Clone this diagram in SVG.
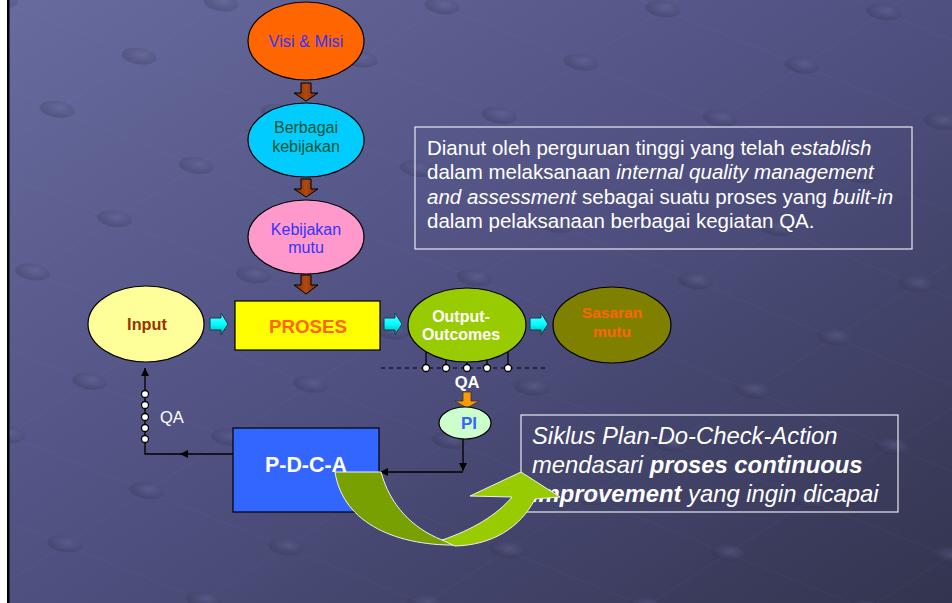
<svg xmlns="http://www.w3.org/2000/svg" width="952" height="603" viewBox="0 0 952 603">
  <defs>
    <linearGradient id="bg" x1="0" y1="0" x2="1" y2="1">
      <stop offset="0" stop-color="#686b9e"/>
      <stop offset="0.5" stop-color="#4f5080"/>
      <stop offset="1" stop-color="#33344e"/>
    </linearGradient>
    <radialGradient id="bump" cx="0.5" cy="0.35" r="0.6">
      <stop offset="0" stop-color="#6d6fa3" stop-opacity="0.35"/>
      <stop offset="1" stop-color="#2e2f4c" stop-opacity="0.28"/>
    </radialGradient>
    <pattern id="grid" width="150" height="80" patternUnits="userSpaceOnUse" patternTransform="rotate(22) skewX(-35)">
      <path d="M0 0 H150 M0 0 V80" stroke="#9a9cd0" stroke-opacity="0.12" stroke-width="1" fill="none"/>
      <ellipse cx="0" cy="0" rx="16" ry="9" fill="url(#bump)"/>
      <ellipse cx="150" cy="0" rx="16" ry="9" fill="url(#bump)"/>
      <ellipse cx="0" cy="80" rx="16" ry="9" fill="url(#bump)"/>
      <ellipse cx="150" cy="80" rx="16" ry="9" fill="url(#bump)"/>
    </pattern>
    <linearGradient id="brown" x1="0" y1="0" x2="1" y2="0">
      <stop offset="0" stop-color="#7a2800"/>
      <stop offset="0.5" stop-color="#b04a10"/>
      <stop offset="1" stop-color="#7a2800"/>
    </linearGradient>
    <linearGradient id="cyan" x1="0" y1="0" x2="0" y2="1">
      <stop offset="0" stop-color="#66ffff"/>
      <stop offset="0.5" stop-color="#00ffff"/>
      <stop offset="1" stop-color="#00a8b0"/>
    </linearGradient>
    <marker id="ah" viewBox="0 0 10 10" refX="10" refY="5" markerWidth="8" markerHeight="8" markerUnits="userSpaceOnUse" orient="auto">
      <path d="M0 0 L10 5 L0 10 Z" fill="#000"/>
    </marker>
    <style>
      .t { font-family: "Liberation Sans", Arial, sans-serif; }
      .node { stroke: #000; stroke-width: 1.2; }
      .lbl { font-family: "Liberation Sans", Arial, sans-serif; text-anchor: middle; }
      .b { font-weight: bold; }
      .ln { stroke: #000; stroke-width: 1.3; fill: none; }
      .dot { fill: #fff; stroke: #000; stroke-width: 1.3; }
      .down { fill: url(#brown); stroke: #000; stroke-width: 1; }
      .right { fill: url(#cyan); stroke: #1a3a4a; stroke-width: 1; }
      .box { fill: none; stroke: #e8e8f0; stroke-width: 1.2; }
      .copy { font-family: "Liberation Sans", Arial, sans-serif; fill: #fff; }
    </style>
  </defs>

  <!-- slide background -->
  <rect x="0" y="0" width="952" height="603" fill="url(#bg)"/>
  <rect x="0" y="0" width="952" height="603" fill="url(#grid)"/>
  <rect x="0" y="0" width="7" height="603" fill="#fff"/>
  <rect x="7" y="0" width="2.5" height="603" fill="#000"/>

  <!-- connectors -->
  <g id="connectors">
    <!-- policy chain arrows -->
    <path class="down" d="M301 83 H311 V93 H318 L306 101 L294 93 H301 Z"/>
    <path class="down" d="M301 179 H311 V189 H318 L306 197 L294 189 H301 Z"/>
    <path class="down" d="M301 275 H311 V285 H318 L306 294 L294 285 H301 Z"/>
    <!-- process flow arrows -->
    <path class="right" d="M210 318 H221 V313 L228 324 L221 335 V330 H210 Z"/>
    <path class="right" d="M384 318 H395 V313 L402 324 L395 335 V330 H384 Z"/>
    <path class="right" d="M530 318 H541 V313 L548 324 L541 335 V330 H530 Z"/>
    <!-- QA measurement probes -->
    <line x1="381" y1="368" x2="548" y2="368" stroke="#000" stroke-width="1.2" stroke-dasharray="4 4"/>
    <g class="ln">
      <line x1="426" y1="352" x2="426" y2="365"/>
      <line x1="446" y1="353" x2="446" y2="365"/>
      <line x1="467" y1="353" x2="467" y2="365"/>
      <line x1="487" y1="353" x2="487" y2="365"/>
      <line x1="508" y1="350" x2="508" y2="365"/>
    </g>
    <circle class="dot" cx="426" cy="368" r="3.5"/>
    <circle class="dot" cx="446" cy="368" r="3.5"/>
    <circle class="dot" cx="467" cy="368" r="3.5"/>
    <circle class="dot" cx="487" cy="368" r="3.5"/>
    <circle class="dot" cx="508" cy="368" r="3.5"/>
    <text class="lbl b" x="467" y="388" font-size="16.5" fill="#fff">QA</text>
    <path d="M463 392 H471 V401 H479 L467 408 L455 401 H463 Z" fill="#ff9900" stroke="#333" stroke-width="0.8"/>
    <!-- PI to PDCA -->
    <path class="ln" d="M463 439 V471" marker-end="url(#ah)"/>
    <path class="ln" d="M463 472 H380" marker-end="url(#ah)"/>
    <!-- PDCA back to input -->
    <path class="ln" d="M233 454 H180" marker-end="url(#ah)"/>
    <path class="ln" d="M182 454 H145 V368" marker-end="url(#ah)"/>
    <circle class="dot" cx="145" cy="394" r="3.5"/>
    <circle class="dot" cx="145" cy="405" r="3.5"/>
    <circle class="dot" cx="145" cy="417" r="3.5"/>
    <circle class="dot" cx="145" cy="428" r="3.5"/>
    <circle class="dot" cx="145" cy="439" r="3.5"/>
    <text class="t" x="160" y="423" font-size="16.5" fill="#fff">QA</text>
  </g>

  <g id="visi-misi">
    <ellipse class="node" cx="306" cy="41" rx="58" ry="39" fill="#ff6600"/>
    <text class="lbl" x="306" y="47" font-size="16.3" fill="#3333ff">Visi &amp; Misi</text>
  </g>

  <g id="berbagai-kebijakan">
    <ellipse class="node" cx="306" cy="140" rx="58" ry="37" fill="#00ccff"/>
    <text class="lbl" x="306" y="133" font-size="16" fill="#005533">Berbagai</text>
    <text class="lbl" x="306" y="152" font-size="16" fill="#005533">kebijakan</text>
  </g>

  <g id="kebijakan-mutu">
    <ellipse class="node" cx="306" cy="237" rx="58" ry="37" fill="#ff99cc"/>
    <text class="lbl" x="306" y="235" font-size="16" fill="#3333ff">Kebijakan</text>
    <text class="lbl" x="306" y="253" font-size="16" fill="#3333ff">mutu</text>
  </g>

  <g id="input">
    <ellipse class="node" cx="146" cy="324" rx="58" ry="38" fill="#ffff99"/>
    <text class="lbl b" x="147" y="330" font-size="16.3" fill="#993300">Input</text>
  </g>

  <g id="proses">
    <rect class="node" x="235" y="301" width="145" height="49" fill="#ffff00"/>
    <text class="lbl b" x="308" y="333" font-size="18.7" fill="#ff6600">PROSES</text>
  </g>

  <g id="output-outcomes">
    <ellipse class="node" cx="467" cy="325" rx="59" ry="37" fill="#99cc00"/>
    <text class="lbl b" x="461" y="322" font-size="16" fill="#fff">Output-</text>
    <text class="lbl b" x="461" y="340" font-size="16" fill="#fff">Outcomes</text>
  </g>

  <g id="sasaran-mutu">
    <ellipse class="node" cx="612" cy="325" rx="59" ry="38" fill="#808000"/>
    <text class="lbl b" x="612" y="318" font-size="15.5" fill="#ff6600">Sasaran</text>
    <text class="lbl b" x="612" y="337" font-size="15.5" fill="#ff6600">mutu</text>
  </g>

  <g id="pi">
    <ellipse class="node" cx="465" cy="423" rx="26" ry="16" fill="#ccffcc"/>
    <text class="lbl b" x="469" y="429" font-size="17" fill="#3366ff">PI</text>
  </g>

  <g id="pdca">
    <rect class="node" x="233" y="428" width="146" height="84" fill="#3366ff"/>
    <text class="lbl b" x="306" y="472" font-size="21.4" fill="#fff">P-D-C-A</text>
  </g>

  <g id="note-establish">
    <rect class="box" x="415" y="127" width="497" height="122"/>
    <text class="copy" font-size="20.5">
      <tspan x="427" y="155">Dianut oleh perguruan tinggi yang telah <tspan font-style="italic">establish</tspan></tspan>
      <tspan x="427" y="179">dalam melaksanaan <tspan font-style="italic">internal quality management</tspan></tspan>
      <tspan x="427" y="204"><tspan font-style="italic">and assessment</tspan> sebagai suatu proses yang <tspan font-style="italic">built-in</tspan></tspan>
      <tspan x="427" y="228">dalam pelaksanaan berbagai kegiatan QA.</tspan>
    </text>
  </g>

  <g id="note-pdca">
    <rect class="box" x="521" y="415" width="377" height="97"/>
    <text class="copy" font-size="23.8" font-style="italic">
      <tspan x="532" y="444">Siklus Plan-Do-Check-Action</tspan>
      <tspan x="532" y="473">mendasari <tspan font-weight="bold">proses continuous</tspan></tspan>
      <tspan x="532" y="502"><tspan font-weight="bold">improvement</tspan> yang ingin dicapai</tspan>
    </text>
  </g>

  <!-- U-turn arrow: continuous improvement -->
  <g id="improvement-arrow" stroke="#f0f0f0" stroke-width="1">
    <path d="M335 472 L381 472 C390 505 412 528 442 540 L462 545 C398 547 343 524 335 472 Z" fill="#77a000"/>
    <path d="M442 540 C472 530 497 515 512 497 L470 496 L521 472 L560 497 L535 499 C520 528 492 545 455 546 Z" fill="#99cc00"/>
  </g>
</svg>
